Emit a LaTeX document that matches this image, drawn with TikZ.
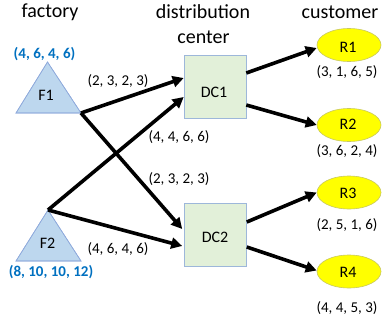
\documentclass[tikz,border=0pt]{standalone}
\usepackage{fontspec}
\setmainfont{Carlito}
\usetikzlibrary{arrows.meta,shapes.geometric,calc}
\definecolor{tribl}{HTML}{BDD7EE}
\definecolor{triedge}{HTML}{8FAADC}
\definecolor{dcfill}{HTML}{E2F0D9}
\definecolor{dcedge}{HTML}{9DB7DA}
\definecolor{rfill}{HTML}{FFFF00}
\definecolor{redge}{HTML}{C8C860}
\definecolor{bluetxt}{HTML}{0070C0}
\tikzset{
  title/.style={font=\fontsize{20}{22}\selectfont, inner sep=0pt},
  lab/.style={font=\fontsize{15}{18}\selectfont, inner sep=0pt},
  blab/.style={font=\fontsize{15}{18}\selectfont\bfseries, text=bluetxt, inner sep=0pt},
  nodetxt/.style={font=\fontsize{16}{18}\selectfont, inner sep=0pt},
  tri/.style={fill=tribl, draw=triedge, line width=0.6pt},
  dcbox/.style={rectangle, fill=dcfill, draw=dcedge, line width=0.6pt, minimum width=62pt, minimum height=63pt, inner sep=0pt},
  cust/.style={ellipse, fill=rfill, draw=redge, line width=0.6pt, minimum width=64pt, minimum height=33pt, inner sep=0pt},
  flow/.style={line width=3.6pt, -{Triangle[length=11pt,width=11pt]}, shorten >=0pt}
}
\begin{document}
\begin{tikzpicture}[x=1pt,y=-1pt]
\useasboundingbox (0,0) rectangle (383,324);
% titles
\node[title] (tfac) at (50,12) {factory};
\node[title] (tdist) at (203,12) {distribution};
\node[title] (tcen) at (203.5,37) {center};
\node[title] (tcus) at (340,12) {customer};
% factories
\coordinate (F1apex) at (47.5,62);
\coordinate (F1left) at (16,113);
\coordinate (F1right) at (81,113);
\fill[tri] (F1apex) -- (F1left) -- (F1right) -- cycle;
\draw[draw=triedge, line width=0.6pt] (F1apex) -- (F1left) -- (F1right) -- cycle;
\node[nodetxt] (F1) at (46,95) {F1};
\node[blab] (F1cap) at (44.5,54) {(4, 6, 4, 6)};
\coordinate (F2apex) at (48,210);
\coordinate (F2left) at (16,261);
\coordinate (F2right) at (81,261);
\fill[tri] (F2apex) -- (F2left) -- (F2right) -- cycle;
\draw[draw=triedge, line width=0.6pt] (F2apex) -- (F2left) -- (F2right) -- cycle;
\node[nodetxt] (F2) at (47.5,243) {F2};
\node[blab] (F2cap) at (51,272) {(8, 10, 10, 12)};
% distribution centers
\node[dcbox] (DC1) at (215,86.5) {};
\node[nodetxt] (DC1t) at (214,92) {DC1};
\node[dcbox] (DC2) at (215.5,235) {};
\node[nodetxt] (DC2t) at (215,237) {DC2};
% customers
\node[cust] (R1) at (349,45) {};
\node[nodetxt] (R1t) at (348,47) {R1};
\node[lab] (R1d) at (347,72.5) {(3, 1, 6, 5)};
\node[cust] (R2) at (349,125) {};
\node[nodetxt] (R2t) at (348,124.5) {R2};
\node[lab] (R2d) at (347,151) {(3, 6, 2, 4)};
\node[cust] (R3) at (349,192.5) {};
\node[nodetxt] (R3t) at (348,193) {R3};
\node[lab] (R3d) at (347,225) {(2, 5, 1, 6)};
\node[cust] (R4) at (349,271.5) {};
\node[nodetxt] (R4t) at (348,272) {R4};
\node[lab] (R4d) at (347,308) {(4, 4, 5, 3)};
% flows
\draw[flow] (F1right) -- ([yshift=8.5pt]DC1.west);
\draw[flow] (F1right) -- ([xshift=-2pt,yshift=6pt]DC2.west);
\draw[flow] (F2apex) -- ([yshift=-10.5pt]DC1.west);
\draw[flow] (F2apex) -- ([xshift=-2pt,yshift=-11pt]DC2.west);
\draw[flow] ([yshift=13.5pt]DC1.east) -- ([yshift=-3pt]R1.west);
\draw[flow] ([yshift=-18.5pt]DC1.east) -- (R2.west);
\draw[flow] ([yshift=13pt]DC2.east) -- (R3.west);
\draw[flow] ([yshift=-12pt]DC2.east) -- ([yshift=1pt]R4.west);
% flow labels
\node[lab] (l1) at (118,81) {(2, 3, 2, 3)};
\node[lab] (l2) at (179,137.5) {(4, 4, 6, 6)};
\node[lab] (l3) at (179,179) {(2, 3, 2, 3)};
\node[lab] (l4) at (118,249) {(4, 6, 4, 6)};
\end{tikzpicture}
\end{document}
